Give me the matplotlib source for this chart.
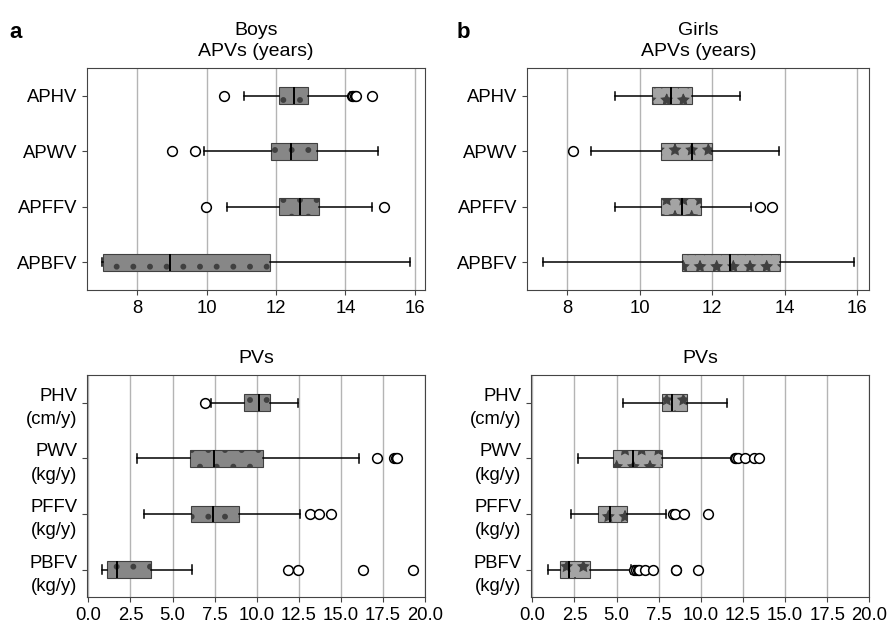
import matplotlib
matplotlib.use("Agg")
import matplotlib.pyplot as plt

plt.rcParams["font.family"] = ["Liberation Sans", "DejaVu Sans"]

# ---------------------------------------------------------------------
# Datos (cuartiles, bigotes y atípicos)
# ---------------------------------------------------------------------
apv_labels = ["APHV", "APWV", "APFFV", "APBFV"]
pv_labels = ["PHV\n(cm/y)", "PWV\n(kg/y)", "PFFV\n(kg/y)", "PBFV\n(kg/y)"]

# Niños, APVs (años)
boys_apv_whislo = [11.08, 9.91, 10.58, 6.99]
boys_apv_q1 = [12.08, 11.86, 12.08, 7.00]
boys_apv_med = [12.53, 12.44, 12.69, 8.94]
boys_apv_q3 = [12.92, 13.18, 13.23, 11.83]
boys_apv_whishi = [14.13, 14.94, 14.77, 15.85]
boys_apv_fliers = [[10.5, 14.19, 14.23, 14.27, 14.3, 14.77], [9.0, 9.65], [9.98, 15.11], []]

# Niñas, APVs (años)
girls_apv_whislo = [9.33, 8.66, 9.33, 7.33]
girls_apv_q1 = [10.35, 10.59, 10.59, 11.16]
girls_apv_med = [10.87, 11.44, 11.17, 12.5]
girls_apv_q3 = [11.44, 12.01, 11.68, 13.88]
girls_apv_whishi = [12.77, 13.85, 13.07, 15.91]
girls_apv_fliers = [[], [8.17], [13.33, 13.66], []]

# Niños, PVs
boys_pv_whislo = [7.26, 2.91, 3.29, 0.79]
boys_pv_q1 = [9.23, 6.01, 6.07, 1.13]
boys_pv_med = [10.14, 7.46, 7.40, 1.70]
boys_pv_q3 = [10.79, 10.39, 8.93, 3.71]
boys_pv_whishi = [12.48, 16.09, 12.58, 6.13]
boys_pv_fliers = [[6.9], [17.14, 18.17, 18.25, 18.33], [13.17, 13.73, 14.4],
                  [11.86, 12.48, 16.31, 19.29]]

# Niñas, PVs
girls_pv_whislo = [5.38, 2.74, 2.27, 0.93]
girls_pv_q1 = [7.67, 4.79, 3.92, 1.66]
girls_pv_med = [8.26, 5.97, 4.63, 2.17]
girls_pv_q3 = [9.17, 7.71, 5.62, 3.43]
girls_pv_whishi = [11.53, 12.06, 7.94, 5.85]
girls_pv_fliers = [[], [12.0, 12.1, 12.2, 12.64, 13.15, 13.44],
                   [8.32, 8.46, 9.01, 10.43],
                   [6.01, 6.15, 6.25, 6.35, 6.68, 7.19, 8.5, 8.54, 9.83]]


def _stats(labels, whislo, q1, med, q3, whishi, fliers):
    """Arma la lista de diccionarios que espera Axes.bxp."""
    out = []
    for i, lab in enumerate(labels):
        out.append(dict(label=lab, whislo=whislo[i], q1=q1[i], med=med[i],
                        q3=q3[i], whishi=whishi[i], fliers=fliers[i]))
    return out


def _draw(ax, stats, face, hatch, hatch_lw, title, xlim=None, xticks=None):
    with plt.rc_context({"hatch.linewidth": hatch_lw}):
        res = ax.bxp(stats, orientation="horizontal", widths=0.3, patch_artist=True,
                     boxprops=dict(facecolor=face, edgecolor="#404040", linewidth=0.8),
                     medianprops=dict(color="black", linewidth=1.4),
                     whiskerprops=dict(color="black", linewidth=1.1),
                     capprops=dict(color="black", linewidth=1.1),
                     flierprops=dict(marker="o", markerfacecolor="white",
                                     markeredgecolor="black", markersize=7,
                                     markeredgewidth=1.1))
        for b in res["boxes"]:
            b.set_hatch(hatch)
            if hasattr(b, "set_hatch_linewidth"):
                b.set_hatch_linewidth(hatch_lw)
    labels = [st["label"] for st in stats]
    ax.set_yticks(range(1, len(labels) + 1))
    ax.set_yticklabels(labels, linespacing=1.5)
    ax.set_ylim(4.5, 0.5)
    if xlim is not None:
        ax.set_xlim(*xlim)
    if xticks is not None:
        ax.set_xticks(xticks)
        ax.set_xticklabels([f"{t:.1f}" for t in xticks])
    ax.xaxis.grid(True, color="#b4b4b4", linewidth=1.0)
    ax.set_axisbelow(True)
    ax.tick_params(labelsize=13.3, color="#444444")
    for sp in ax.spines.values():
        sp.set_color("#444444")
    ax.set_title(title, fontsize=14, pad=8.5, linespacing=1.3)


fig = plt.figure(figsize=(8.9, 6.32), dpi=100)

ax_a1 = fig.add_axes([0.0978, 0.5411, 0.3797, 0.3513])
ax_b1 = fig.add_axes([0.5925, 0.5411, 0.3843, 0.3513])
ax_a2 = fig.add_axes([0.0978, 0.0549, 0.3797, 0.3517])
ax_b2 = fig.add_axes([0.5966, 0.0549, 0.3802, 0.3517])

boys_color = "#878787"
girls_color = "#a4a4a4"
pv_ticks = [0, 2.5, 5, 7.5, 10, 12.5, 15, 17.5, 20]

_draw(ax_a1, _stats(apv_labels, boys_apv_whislo, boys_apv_q1, boys_apv_med,
                    boys_apv_q3, boys_apv_whishi, boys_apv_fliers),
      boys_color, ".", 1.8, "Boys\nAPVs (years)")
_draw(ax_b1, _stats(apv_labels, girls_apv_whislo, girls_apv_q1, girls_apv_med,
                    girls_apv_q3, girls_apv_whishi, girls_apv_fliers),
      girls_color, "*", 0.8, "Girls\nAPVs (years)")
_draw(ax_a2, _stats(pv_labels, boys_pv_whislo, boys_pv_q1, boys_pv_med,
                    boys_pv_q3, boys_pv_whishi, boys_pv_fliers),
      boys_color, ".", 1.8, "PVs", xlim=(-0.08, 20), xticks=pv_ticks)
_draw(ax_b2, _stats(pv_labels, girls_pv_whislo, girls_pv_q1, girls_pv_med,
                    girls_pv_q3, girls_pv_whishi, girls_pv_fliers),
      girls_color, "*", 0.8, "PVs", xlim=(-0.08, 20), xticks=pv_ticks)

for ax in (ax_a1, ax_b1):
    ax.set_xticks([8, 10, 12, 14, 16])

fig.text(0.011, 0.965, "a", fontsize=16, fontweight="bold", va="top")
fig.text(0.513, 0.965, "b", fontsize=16, fontweight="bold", va="top")

fig.savefig("out.png", dpi=100)
